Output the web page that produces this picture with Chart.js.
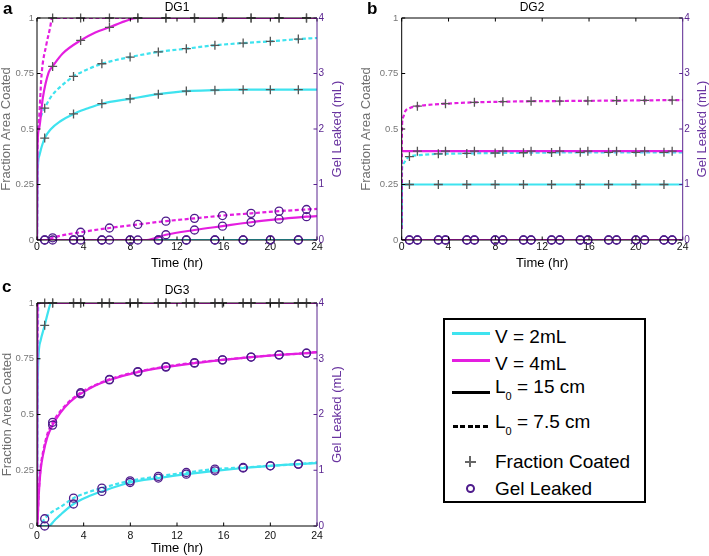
<!DOCTYPE html>
<html><head><meta charset="utf-8">
<script src="https://cdn.jsdelivr.net/npm/chart.js@4/dist/chart.umd.min.js"></script>
<style>
html,body{margin:0;padding:0;background:#fff;}
body{width:709px;height:556px;position:relative;overflow:hidden;font-family:'Liberation Sans',Arial,Helvetica,sans-serif;}
canvas{position:absolute;}
.pl{position:absolute;font-weight:bold;font-size:17px;line-height:17px;color:#000;}
.lt{position:absolute;font-size:19px;line-height:19px;color:#000;white-space:nowrap;}
.lt .s{font-size:11px;position:relative;top:7px;}
.ln{position:absolute;height:3px;}
</style></head>
<body>
<canvas id="ca" width="354" height="275" style="left:0;top:0"></canvas>
<canvas id="cb" width="354" height="275" style="left:355px;top:0"></canvas>
<canvas id="cc" width="354" height="286" style="left:0;top:270px"></canvas>
<div class="pl" style="left:3px;top:0px">a</div>
<div class="pl" style="left:367px;top:0px">b</div>
<div class="pl" style="left:2px;top:278px">c</div>

<div style="position:absolute;left:443px;top:318px;width:199px;height:181px;border:2px solid #000;"></div>
<div class="ln" style="left:452px;top:332px;width:38px;background:#3fe3ef"></div>
<div class="lt" style="left:495px;top:327px">V = 2mL</div>
<div class="ln" style="left:452px;top:359px;width:38px;background:#e41ee0"></div>
<div class="lt" style="left:495px;top:354px">V = 4mL</div>
<div class="ln" style="left:452px;top:391px;width:38px;background:#000"></div>
<div class="lt" style="left:495px;top:377px">L<span class="s">0</span> = 15 cm</div>
<div class="ln" style="left:453px;top:425px;width:37px;background:repeating-linear-gradient(to right,#000 0 5px,transparent 5px 7.4px)"></div>
<div class="lt" style="left:495px;top:412px">L<span class="s">0</span> = 7.5 cm</div>
<div style="position:absolute;left:464.5px;top:460.7px;width:11px;height:2px;background:#666"></div>
<div style="position:absolute;left:469px;top:456.2px;width:2px;height:11px;background:#666"></div>
<div class="lt" style="left:495px;top:452px">Fraction Coated</div>
<div style="position:absolute;left:465.5px;top:483.8px;width:9px;height:9px;box-sizing:border-box;border:2px solid #4e1b8c;border-radius:50%"></div>
<div class="lt" style="left:495px;top:479px">Gel Leaked</div>

<script>
// ---------- data ----------
const xTicks = [0, 4, 8, 12, 16, 20, 24];
const fracTicks = [0, 0.25, 0.5, 0.75, 1];
const leakTicks = [0, 1, 2, 3, 4];
const panelTitles = ['DG1', 'DG2', 'DG3'];
// marker sample times (hr): V = 2 mL series and V = 4 mL series
const T2 = [0.66, 3.13, 5.56, 7.98, 10.4, 12.8, 15.25, 17.67, 20.0, 22.4];
const T4 = [1.34, 3.74, 6.21, 8.64, 11.05, 13.5, 15.9, 18.35, 20.75, 23.1];

// Panel a (DG1)  CS = cyan solid (V=2, L0=15), CD = cyan dashed (V=2, L0=7.5), MS/MD = magenta (V=4)
const aFracCS = [[0,0],[0.05,0.3],[0.2,0.38],[0.4,0.42],[0.66,0.459],[1.2,0.5],[2,0.535],[3.13,0.568],[4.3,0.592],[5.56,0.614],[7.98,0.636],[10.4,0.657],[12.8,0.671],[15.25,0.675],[17.67,0.677],[20.0,0.677],[22.4,0.677],[24,0.677]];
const aFracCD = [[0,0],[0.03,0.38],[0.11,0.5],[0.3,0.55],[0.66,0.594],[1.2,0.645],[2,0.69],[3.13,0.737],[4.3,0.768],[5.56,0.794],[7.98,0.824],[10.4,0.847],[12.8,0.862],[15.25,0.877],[17.67,0.887],[20.0,0.895],[22.4,0.905],[24,0.91]];
const aFracMS = [[0,0],[0.03,0.4],[0.17,0.5],[0.5,0.64],[1.0,0.755],[1.34,0.782],[2.2,0.84],[3.74,0.899],[5,0.935],[6.21,0.958],[7.5,0.985],[8.64,1],[11.05,1],[13.5,1],[15.9,1],[18.35,1],[20.75,1],[23.1,1],[24,1]];
const aFracMD = [[0,0],[0.03,0.42],[0.11,0.5],[0.4,0.75],[0.8,0.88],[1.1,0.95],[1.3,1],[1.34,1],[3.74,1],[6.21,1],[8.64,1],[11.05,1],[13.5,1],[15.9,1],[18.35,1],[20.75,1],[23.1,1],[24,1]];
const aLeakCS = [[0,0],[0.66,0],[3.13,0],[5.56,0],[7.98,0],[10.4,0],[12.8,0],[15.25,0],[17.67,0],[20.0,0],[22.4,0],[24,0]];
const aLeakCD = [[0,0],[0.66,0],[3.13,0],[5.56,0],[7.98,0],[10.4,0],[12.8,0],[15.25,0],[17.67,0],[20.0,0],[22.4,0],[24,0]];
const aLeakMS = [[0,0],[1.34,0],[3.74,0],[6.21,0],[8.64,0],[9.4,0],[11.05,0.095],[13.5,0.18],[15.9,0.25],[18.35,0.32],[20.75,0.375],[23.1,0.42],[24,0.43]];
const aLeakMD = [[0,0],[0.9,0],[1.34,0.04],[3.74,0.14],[6.21,0.216],[8.64,0.28],[11.05,0.34],[13.5,0.39],[15.9,0.44],[18.35,0.48],[20.75,0.52],[23.1,0.55],[24,0.56]];

// Panel b (DG2)
const bFracCS = [[0,0.05],[0.02,0.25],[0.66,0.25],[3.13,0.25],[5.56,0.25],[7.98,0.25],[10.4,0.25],[12.8,0.25],[15.25,0.25],[17.67,0.25],[20.0,0.25],[22.4,0.25],[24,0.25]];
const bFracCD = [[0,0.05],[0.03,0.32],[0.15,0.345],[0.4,0.365],[0.66,0.376],[1.5,0.382],[3.13,0.388],[5.56,0.39],[7.98,0.392],[10.4,0.393],[12.8,0.394],[15.25,0.395],[17.67,0.395],[20.0,0.395],[22.4,0.395],[24,0.395]];
const bFracMS = [[0,0.4],[1.34,0.4],[3.74,0.4],[6.21,0.4],[8.64,0.4],[11.05,0.4],[13.5,0.4],[15.9,0.4],[18.35,0.4],[20.75,0.4],[23.1,0.4],[24,0.4]];
const bFracMD = [[0,0.05],[0.02,0.5],[0.1,0.55],[0.3,0.58],[0.7,0.595],[1.34,0.603],[3.74,0.614],[6.21,0.62],[8.64,0.623],[11.05,0.625],[13.5,0.626],[15.9,0.627],[18.35,0.628],[20.75,0.629],[23.1,0.63],[24,0.63]];
const bLeakCS = [[0,0],[0.66,0],[3.13,0],[5.56,0],[7.98,0],[10.4,0],[12.8,0],[15.25,0],[17.67,0],[20.0,0],[22.4,0],[24,0]];
const bLeakCD = [[0,0],[0.66,0],[3.13,0],[5.56,0],[7.98,0],[10.4,0],[12.8,0],[15.25,0],[17.67,0],[20.0,0],[22.4,0],[24,0]];
const bLeakMS = [[0,0],[1.34,0],[3.74,0],[6.21,0],[8.64,0],[11.05,0],[13.5,0],[15.9,0],[18.35,0],[20.75,0],[23.1,0],[24,0]];
const bLeakMD = [[0,0],[1.34,0],[3.74,0],[6.21,0],[8.64,0],[11.05,0],[13.5,0],[15.9,0],[18.35,0],[20.75,0],[23.1,0],[24,0]];

// Panel c (DG3)
const cFracCS = [[0,0],[0.04,0.5],[0.11,0.74],[0.3,0.83],[0.66,0.9],[0.95,0.96],[1.2,1],[3.13,1],[5.56,1],[7.98,1],[10.4,1],[12.8,1],[15.25,1],[17.67,1],[20.0,1],[22.4,1],[24,1]];
const cFracCD = [[0,0],[0.03,0.6],[0.08,0.9],[0.12,1],[0.66,1],[3.13,1],[5.56,1],[7.98,1],[10.4,1],[12.8,1],[15.25,1],[17.67,1],[20.0,1],[22.4,1],[24,1]];
const cFracMS = [[0,0],[0.02,0.7],[0.06,1],[1.34,1],[3.74,1],[6.21,1],[8.64,1],[11.05,1],[13.5,1],[15.9,1],[18.35,1],[20.75,1],[23.1,1],[24,1]];
const cFracMD = [[0,0],[0.01,0.8],[0.04,1],[1.34,1],[3.74,1],[6.21,1],[8.64,1],[11.05,1],[13.5,1],[15.9,1],[18.35,1],[20.75,1],[23.1,1],[24,1]];
const cLeakCS = [[0,0],[0.66,0],[1.0,0],[1.5,0.1],[2.0,0.2],[3.13,0.395],[4.3,0.52],[5.56,0.62],[7.98,0.78],[10.4,0.86],[12.8,0.93],[15.25,0.99],[17.67,1.04],[20.0,1.08],[22.4,1.11],[24,1.13]];
const cLeakCD = [[0,0],[0.2,0],[0.66,0.13],[1.2,0.24],[2,0.34],[3.13,0.5],[4.3,0.6],[5.56,0.68],[7.98,0.81],[10.4,0.89],[12.8,0.96],[15.25,1.02],[17.67,1.05],[20.0,1.08],[22.4,1.11],[24,1.14]];
const cLeakMS = [[0,0],[0.05,0.1],[0.15,0.55],[0.31,1.0],[0.54,1.3],[0.89,1.6],[1.34,1.81],[2,2.03],[2.8,2.22],[3.74,2.37],[5,2.52],[6.21,2.62],[8.64,2.76],[11.05,2.85],[13.5,2.92],[15.9,2.98],[18.35,3.03],[20.75,3.07],[23.1,3.1],[24,3.12]];
const cLeakMD = [[0,0],[0.05,0.12],[0.15,0.6],[0.3,1.03],[0.54,1.35],[0.89,1.65],[1.34,1.86],[2,2.06],[2.8,2.24],[3.74,2.39],[5,2.53],[6.21,2.63],[8.64,2.77],[11.05,2.86],[13.5,2.93],[15.9,2.98],[18.35,3.03],[20.75,3.07],[23.1,3.1],[24,3.12]];

// ---------- styling ----------
const CYAN = '#3fe3ef', MAG = '#e41ee0', PURPLE = '#5a2590', MARK_PURPLE = '#4e1b8c', PLUS = '#555';
const DASH = [4, 2.5];
Chart.defaults.font.family = "'Liberation Sans', Arial, Helvetica, sans-serif";

function pick(data, times) {
  return data.filter(p => times.some(t => Math.abs(t - p[0]) < 1e-6));
}
function lineDs(data, axis, color, dash, order) {
  return {data, yAxisID: axis, showLine: true, borderColor: color, borderWidth: 2.2,
    borderDash: dash, pointRadius: 0, cubicInterpolationMode: 'monotone', fill: false, order};
}
function makeDatasets(s) {
  const defs = [
    {f: s.fCD, l: s.lCD, color: CYAN, dash: DASH, T: T2},
    {f: s.fCS, l: s.lCS, color: CYAN, dash: [], T: T2},
    {f: s.fMD, l: s.lMD, color: MAG, dash: DASH, T: T4},
    {f: s.fMS, l: s.lMS, color: MAG, dash: [], T: T4}
  ];
  const ds = [];
  defs.forEach((d, i) => {
    ds.push(lineDs(d.f, 'y', d.color, d.dash, 10 - i));
    ds.push(lineDs(d.l, 'y2', d.color, d.dash, 10 - i));
  });
  defs.forEach(d => {
    ds.push({data: pick(d.f, d.T), yAxisID: 'y', showLine: false, pointStyle: 'cross',
      pointRadius: 4.5, pointBorderColor: PLUS, pointBorderWidth: 1.3, clip: false, order: 1});
    ds.push({data: pick(d.l, d.T), yAxisID: 'y2', showLine: false, pointStyle: 'circle',
      pointRadius: 4, pointBackgroundColor: 'rgba(0,0,0,0)', pointBorderColor: MARK_PURPLE,
      pointBorderWidth: 1.3, clip: false, order: 0});
  });
  return ds;
}

const framePlugin = {
  id: 'frame',
  afterDatasetsDraw(chart) {
    const {ctx, chartArea: a, scales: {x, y, y2}} = chart;
    const L = 3.5;
    ctx.save();
    ctx.lineWidth = 1;
    const seg = (x1, y1, x2, y2c, c) => { ctx.strokeStyle = c; ctx.beginPath(); ctx.moveTo(x1, y1); ctx.lineTo(x2, y2c); ctx.stroke(); };
    x.ticks.forEach(t => { const p = x.getPixelForValue(t.value); seg(p, a.bottom, p, a.bottom - L, '#000'); seg(p, a.top, p, a.top + L, '#000'); });
    y.ticks.forEach(t => { const p = y.getPixelForValue(t.value); seg(a.left, p, a.left + L, p, '#000'); });
    y2.ticks.forEach(t => { const p = y2.getPixelForValue(t.value); seg(a.right, p, a.right - L, p, PURPLE); });
    seg(a.left, a.top, a.right, a.top, '#000');
    seg(a.left, a.bottom, a.right, a.bottom, '#000');
    seg(a.left, a.top, a.left, a.bottom, '#000');
    seg(a.right, a.top, a.right, a.bottom, PURPLE);
    ctx.restore();
  },
  afterDraw(chart, args, opts) {
    const {ctx, chartArea: a} = chart;
    ctx.save();
    ctx.translate(a.right + opts.offset, (a.top + a.bottom) / 2);
    ctx.rotate(-Math.PI / 2);
    ctx.font = opts.size + "px 'Liberation Sans', Arial, sans-serif";
    ctx.fillStyle = opts.color;
    ctx.textAlign = 'center';
    ctx.textBaseline = 'middle';
    ctx.fillText(opts.text, 0, 0);
    ctx.restore();
  }
};

function makePanel(id, title, s, P) {
  new Chart(document.getElementById(id), {
    type: 'scatter',
    data: {datasets: makeDatasets(s)},
    plugins: [framePlugin],
    options: {
      responsive: false, animation: false, events: [],
      layout: {padding: 0, autoPadding: false},
      plugins: {
        legend: {display: false}, tooltip: {enabled: false},
        title: {display: true, text: title, color: '#000', font: {size: 12, weight: 'normal'}, padding: P.titlePad},
        frame: {text: 'Gel Leaked (mL)', color: '#6a35a0', size: 13, offset: 20}
      },
      scales: {
        x: {type: 'linear', min: 0, max: 24,
          afterBuildTicks: sc => { sc.ticks = xTicks.map(v => ({value: v})); },
          grid: {display: false, drawTicks: false}, border: {display: false},
          ticks: {color: '#111', font: {size: 10.5}, padding: P.xTickPad, maxRotation: 0, callback: v => String(v)},
          title: {display: true, text: 'Time (hr)', color: '#000', font: {size: 13}, padding: {top: 0, bottom: P.xTitleBottom}},
          afterFit: sc => { sc.height = P.xH; }},
        y: {type: 'linear', position: 'left', min: 0, max: 1,
          afterBuildTicks: sc => { sc.ticks = fracTicks.map(v => ({value: v})); },
          grid: {display: false, drawTicks: false}, border: {display: false},
          ticks: {color: '#777', font: {size: 9.5}, padding: P.yTickPad, callback: v => String(v)},
          title: {display: true, text: 'Fraction Area Coated', color: '#707070', font: {size: 13, lineHeight: 1}, padding: {top: P.yTitlePad, bottom: 0}},
          afterFit: sc => { sc.width = P.yW; }},
        y2: {type: 'linear', position: 'right', min: 0, max: 4,
          afterBuildTicks: sc => { sc.ticks = leakTicks.map(v => ({value: v})); },
          grid: {display: false, drawTicks: false}, border: {display: false},
          ticks: {color: PURPLE, font: {size: 10}, padding: 1.5, callback: v => String(v)},
          title: {display: false},
          afterFit: sc => { sc.width = P.y2W; }}
      }
    }
  });
}

makePanel('ca', panelTitles[0],
  {fCS: aFracCS, fCD: aFracCD, fMS: aFracMS, fMD: aFracMD, lCS: aLeakCS, lCD: aLeakCD, lMS: aLeakMS, lMD: aLeakMD},
  {titlePad: {top: 0, bottom: 3.6}, xH: 35, xTickPad: 1, xTitleBottom: 4, yW: 37, yTickPad: 3, yTitlePad: 0, y2W: 37});
makePanel('cb', panelTitles[1],
  {fCS: bFracCS, fCD: bFracCD, fMS: bFracMS, fMD: bFracMD, lCS: bLeakCS, lCD: bLeakCD, lMS: bLeakMS, lMD: bLeakMD},
  {titlePad: {top: 0, bottom: 3.6}, xH: 35, xTickPad: 1, xTitleBottom: 4, yW: 46.7, yTickPad: 3.4, yTitlePad: 5, y2W: 26.3});
makePanel('cc', panelTitles[2],
  {fCS: cFracCS, fCD: cFracCD, fMS: cFracMS, fMD: cFracMD, lCS: cLeakCS, lCD: cLeakCD, lMS: cLeakMS, lMD: cLeakMD},
  {titlePad: {top: 13.5, bottom: 5.1}, xH: 30, xTickPad: 3.4, xTitleBottom: 0, yW: 37, yTickPad: 3, yTitlePad: 0.5, y2W: 37});
</script>
</body></html>
